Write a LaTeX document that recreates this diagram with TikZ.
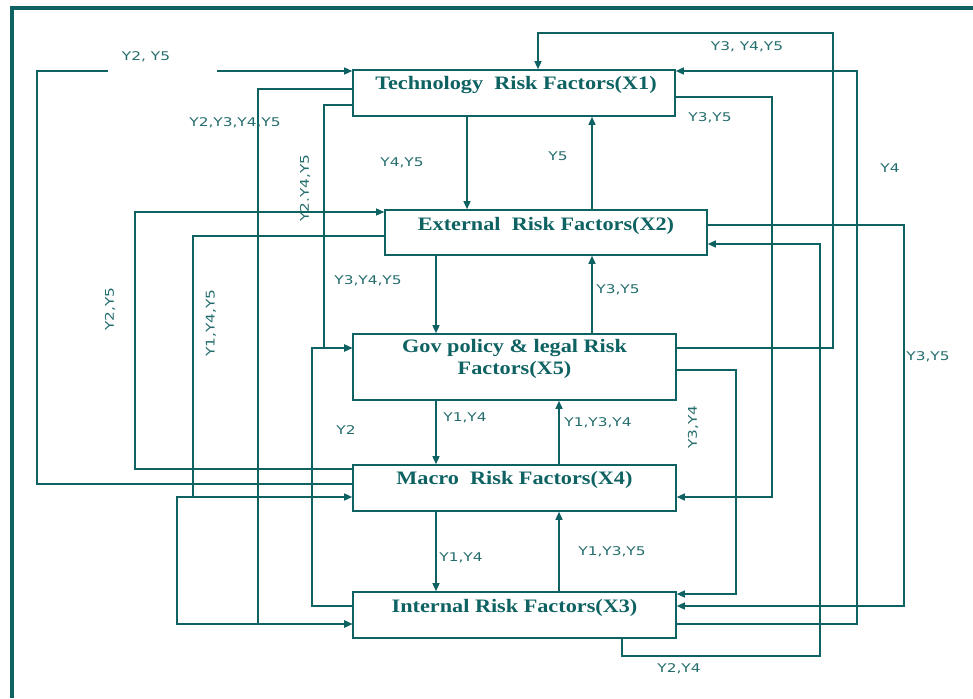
\documentclass[tikz,border=0pt]{standalone}
\usepackage{fontspec}
\newfontfamily\boxfont[FakeStretch=1.17]{Liberation Serif}
\newfontfamily\lblfont[FakeStretch=1.28]{DejaVu Sans}
\usetikzlibrary{arrows.meta,calc}
\definecolor{teal1}{RGB}{14,98,98}
\definecolor{teal2}{RGB}{36,108,108}
\begin{document}
\begin{tikzpicture}[x=1pt,y=-1pt,
  line/.style={draw=teal1, line width=1.4pt},
  arr/.style={line, -{Triangle[length=8pt,width=7pt]}},
  riskbox/.style={draw=teal1, line width=1.6pt, inner sep=0pt, fill=white},
  boxtext/.style={font={\boxfont\bfseries\fontsize{19}{22}\selectfont}, text=teal1, inner sep=0pt, align=center},
  lbl/.style={font={\lblfont\fontsize{12}{14}\selectfont}, text=teal2, inner sep=0pt}]
\useasboundingbox (0,0) rectangle (973,698);
% frame
\draw[teal1, line width=3.5pt] (12,698) -- (12,8) -- (973,8);
% grid coordinates
\foreach \c in {37,108,135,177,193,217,258,312,324,436,467,538,559,592,622,736,772,820,833,857,904}
  {\coordinate (v\c) at (\c,0);}
\foreach \r in {33,71,89,97,105,212,225,236,244,348,370,469,484,497,594,606,624,656}
  {\coordinate (h\r) at (0,\r);}
% boxes
\node[riskbox, minimum width=322pt, minimum height=46pt] (x1) at (514,93) {};
\node[riskbox, minimum width=322pt, minimum height=45pt] (x2) at (546,232.5) {};
\node[riskbox, minimum width=323pt, minimum height=66pt] (x5) at (514.5,367) {};
\node[riskbox, minimum width=323pt, minimum height=46pt] (x4) at (514.5,488) {};
\node[riskbox, minimum width=323pt, minimum height=46pt] (x3) at (514.5,615) {};
\node[boxtext, anchor=base] (t1) at ($(x1.north)+(2,20)$) {Technology~ Risk Factors(X1)};
\node[boxtext, anchor=base] (t2) at ($(x2.north)+(0,21)$) {External~ Risk Factors(X2)};
\node[boxtext, anchor=base] (t5) at ($(x5.north)+(0,19)$) {Gov policy \& legal Risk};
\node[boxtext, anchor=base] (t5b) at ($(x5.north)+(0,41)$) {Factors(X5)};
\node[boxtext, anchor=base] (t4) at ($(x4.north)+(0,20)$) {Macro~ Risk Factors(X4)};
\node[boxtext, anchor=base] (t3) at ($(x3.north)+(0,21)$) {Internal Risk Factors(X3)};
% vertical links between boxes
\draw[arr] (x1.south -| v467) -- (x2.north -| v467);
\draw[arr] (x2.north -| v592) -- (x1.south -| v592);
\draw[arr] (x2.south -| v436) -- (x5.north -| v436);
\draw[arr] (x5.north -| v592) -- (x2.south -| v592);
\draw[arr] (x5.south -| v436) -- (x4.north -| v436);
\draw[arr] (x4.north -| v559) -- (x5.south -| v559);
\draw[arr] (x4.south -| v436) -- (x3.north -| v436);
\draw[arr] (x3.north -| v559) -- (x4.south -| v559);
% left side
\coordinate (g1) at (v108 |- h71);
\coordinate (g2) at (v217 |- h71);
\draw[line] (x4.west |- h484) -| (v37 |- h71) -- (g1);
\draw[arr] (g2) -- (x1.west |- h71);
\draw[arr] (x1.west |- h89) -| (v258 |- h624) -- (x3.west |- h624);
\draw[arr] (x1.west |- h105) -| (v324 |- h348) -- (x5.west |- h348);
\draw[arr] (x3.west |- h606) -| (v312 |- h348) -- (x5.west |- h348);
\draw[arr] (x2.west |- h236) -| (v193 |- h497) -- (x4.west |- h497);
\draw[arr] (v193 |- h497) -- (v177 |- h497) |- (x3.west |- h624);
\draw[arr] (x4.west |- h469) -| (v135 |- h212) -- (x2.west |- h212);
% right side
\draw[arr] (x5.east |- h348) -| (v833 |- h33) -| (x1.north -| v538);
\draw[arr] (x3.east |- h624) -| (v857 |- h71) -- (x1.east |- h71);
\draw[arr] (x1.east |- h97) -| (v772 |- h497) -- (x4.east |- h497);
\draw[arr] (x2.east |- h225) -| (v904 |- h606) -- (x3.east |- h606);
\draw[arr] (x3.south -| v622) |- (v820 |- h656) |- (x2.east |- h244);
\draw[arr] (x5.east |- h370) -| (v736 |- h594) -- (x3.east |- h594);
% labels
\node[lbl] (l1) at (146,57) {Y2, Y5};
\node[lbl] (l2) at (235,123) {Y2,Y3,Y4,Y5};
\node[lbl, rotate=90] (l3) at (305,188) {Y2.Y4,Y5};
\node[lbl] (l4) at (402,163) {Y4,Y5};
\node[lbl] (l5) at (558,156) {Y5};
\node[lbl] (l6) at (747,47) {Y3, Y4,Y5};
\node[lbl] (l7) at (710,118) {Y3,Y5};
\node[lbl] (l8) at (890,168) {Y4};
\node[lbl, rotate=90] (l9) at (110,309) {Y2,Y5};
\node[lbl, rotate=90] (l10) at (211,323) {Y1,Y4,Y5};
\node[lbl] (l11) at (368,281) {Y3,Y4,Y5};
\node[lbl] (l12) at (618,290) {Y3,Y5};
\node[lbl] (l13) at (465,418) {Y1,Y4};
\node[lbl] (l14) at (346,430) {Y2};
\node[lbl] (l15) at (598,423) {Y1,Y3,Y4};
\node[lbl, rotate=90] (l16) at (693,427) {Y3,Y4};
\node[lbl] (l17) at (928,357) {Y3,Y5};
\node[lbl] (l18) at (461,558) {Y1,Y4};
\node[lbl] (l19) at (612,552) {Y1,Y3,Y5};
\node[lbl] (l20) at (679,669) {Y2,Y4};
\end{tikzpicture}
\end{document}
